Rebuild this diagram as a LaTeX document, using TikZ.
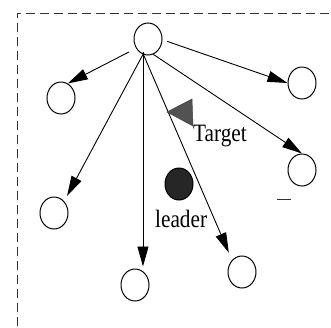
\documentclass[tikz,border=0pt]{standalone}
\usepackage{fontspec}
\setmainfont{Liberation Serif}
\usetikzlibrary{arrows.meta,shapes.geometric}
\begin{document}
\begin{tikzpicture}[x=1pt,y=-1pt,
  agent/.style={ellipse,draw=black,line width=1pt,minimum width=28pt,minimum height=32pt,inner sep=0pt},
  leaderdot/.style={agent,fill=black!85},
  link/.style={line width=0.9pt,-{Triangle[length=20pt,width=11pt]}},
  lbl/.style={inner sep=0pt,font=\fontsize{25}{25}\selectfont}]
\useasboundingbox (0,0) rectangle (331,327);
% dashed frame, running off the right and bottom edges
\draw[line width=0.8pt,black!80,dash pattern=on 9pt off 5pt] (17,340) -- (17,13) -- (345,13);
% agents
\node[agent] (top) at (148,39) {};
\node[agent] (ul) at (61,98) {};
\node[agent] (ur) at (302,83) {};
\node[agent] (mr) at (302,170) {};
\node[agent] (ll) at (54,213) {};
\node[agent] (bc) at (135,285) {};
\node[agent] (br) at (242,272) {};
\node[leaderdot] (lead) at (179,184) {};
% links from the top agent
\draw[link,shorten <=8pt] (top.-142) -- (ul.65);
\draw[link,shorten <=-2pt,shorten >=6pt] (top.-108) -- (ll.49);
\draw[link,shorten <=-2pt,shorten >=2pt] (top.-108) -- (top.-108 |- bc.north);
\draw[link,shorten <=-2pt,shorten >=8pt] (top.-106) -- (br.130);
\draw[link] (top.-71) -- (mr.north);
\draw[link,shorten <=5pt] (top.-3) -- (ur.west);
% target marker
\filldraw[fill=black!68,draw=black!75,line width=0.5pt] (167,112) -- (192,99) -- (193,126) -- cycle;
\node[lbl,anchor=base west] (target) at (193,141) {\scalebox{0.85}[1]{Target}};
\node[lbl,anchor=base west] (leaderlbl) at (155,227) {\scalebox{0.85}[1]{leader}};
% small dash mark
\coordinate (m1) at (277,199.5);
\coordinate (m2) at (291,199.5);
\draw[line width=1.2pt,black!80] (m1) -- (m2);
\end{tikzpicture}
\end{document}
